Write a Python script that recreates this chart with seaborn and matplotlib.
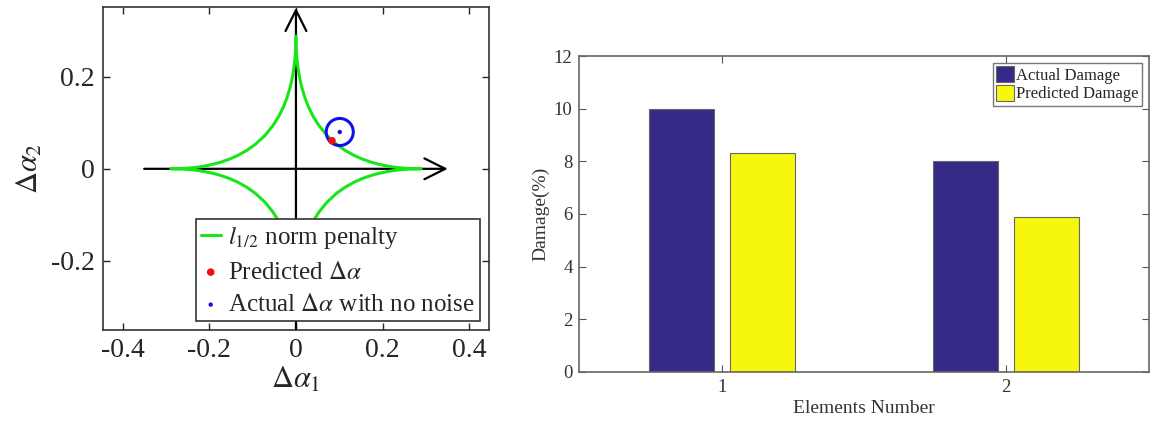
import numpy as np
import pandas as pd
import matplotlib
matplotlib.use("Agg")
import matplotlib.pyplot as plt
import seaborn as sns

# l_{1/2} norm ball, first-quadrant branch (mirrored in the other quadrants)
curve_x = [0.0, 0.0001, 0.0004, 0.0012, 0.0025, 0.0042, 0.0064, 0.01, 0.0144, 0.021,
           0.0289, 0.04, 0.0529, 0.072, 0.0941, 0.1134, 0.1345, 0.1534, 0.1736, 0.1907,
           0.2086, 0.2225, 0.2369, 0.2517, 0.267, 0.2774, 0.288]
curve_y = [0.288, 0.2774, 0.267, 0.2517, 0.2369, 0.2225, 0.2086, 0.1907, 0.1736, 0.1534,
           0.1345, 0.1134, 0.0941, 0.072, 0.0529, 0.04, 0.0289, 0.021, 0.0144, 0.01,
           0.0064, 0.0042, 0.0025, 0.0012, 0.0004, 0.0001, 0.0]
predicted_pt = (0.083, 0.061)
actual_pt = (0.101, 0.080)

# bar chart values
elements = ["1", "2"]
actual_damage = [10.0, 8.0]
predicted_damage = [8.3, 5.9]

sns.set_style("ticks")
plt.rcParams["font.family"] = ["Liberation Serif", "DejaVu Serif"]
plt.rcParams["mathtext.fontset"] = "stix"
plt.rcParams["xtick.direction"] = "in"
plt.rcParams["ytick.direction"] = "in"

fig = plt.figure(figsize=(11.52, 4.23), dpi=100)
ax1 = fig.add_axes([0.0894, 0.220, 0.335, 0.764])
ax2 = fig.add_axes([0.503, 0.1206, 0.494, 0.747])

# ---- left panel ----
arrow_kw = dict(arrowstyle="->,head_length=0.5,head_width=0.25", lw=1.6, color="black",
                mutation_scale=30, shrinkA=0, shrinkB=0)
ax1.annotate("", xy=(0.35, 0), xytext=(-0.35, 0), arrowprops=arrow_kw, zorder=1)
ax1.annotate("", xy=(0, 0.35), xytext=(0, -0.35), arrowprops=arrow_kw, zorder=1)

cx = np.array(curve_x)
cy = np.array(curve_y)
green = "#19e619"
first = True
for sx in (1, -1):
    for sy in (1, -1):
        sns.lineplot(x=cx * sx, y=cy * sy, sort=False, estimator=None, color=green,
                     lw=2.2, ax=ax1, zorder=3,
                     label=r"$l_{1/2}$ norm penalty" if first else None)
        first = False

sns.scatterplot(x=[actual_pt[0]], y=[actual_pt[1]], s=380, marker="o", facecolor="none",
                edgecolor="#1010e8", linewidth=2.2, ax=ax1, zorder=4)
sns.scatterplot(x=[predicted_pt[0]], y=[predicted_pt[1]], s=30, color="#f01010",
                edgecolor="none", ax=ax1, zorder=5, label=r"Predicted $\Delta\alpha$")
sns.scatterplot(x=[actual_pt[0]], y=[actual_pt[1]], s=10, color="#1010e8",
                edgecolor="none", ax=ax1, zorder=5, label=r"Actual $\Delta\alpha$ with no noise")

ax1.set_xlim(-0.445, 0.445)
ax1.set_ylim(-0.35, 0.352)
ax1.set_xticks([-0.4, -0.2, 0, 0.2, 0.4])
ax1.set_xticklabels(["-0.4", "-0.2", "0", "0.2", "0.4"])
ax1.set_yticks([-0.2, 0, 0.2])
ax1.set_yticklabels(["-0.2", "0", "0.2"])
ax1.tick_params(labelsize=20, top=True, right=True, length=5, width=1, pad=6)
ax1.set_xlabel(r"$\Delta\alpha_1$", fontsize=22, labelpad=2)
ax1.set_ylabel(r"$\Delta\alpha_2$", fontsize=22, labelpad=4)
for sp in ax1.spines.values():
    sp.set_linewidth(1.2)
    sp.set_color("#333333")
leg1 = ax1.legend(loc="lower right", fontsize=18, frameon=True, fancybox=False,
                  edgecolor="#333333", framealpha=1, handlelength=0.8, handletextpad=0.3,
                  borderpad=0.2, labelspacing=0.4, borderaxespad=0.35, markerscale=1.0)
leg1.get_frame().set_linewidth(1.2)

# ---- right panel ----
df = pd.DataFrame({
    "element": elements * 2,
    "kind": ["Actual Damage"] * 2 + ["Predicted Damage"] * 2,
    "value": actual_damage + predicted_damage,
})
sns.barplot(data=df, x="element", y="value", hue="kind", saturation=1,
            palette={"Actual Damage": "#352a87", "Predicted Damage": "#f7f70e"},
            width=0.57, gap=0.2, edgecolor="#666666", linewidth=0.8, ax=ax2)
ax2.set_xlim(-0.5, 1.5)
ax2.set_ylim(0, 12)
ax2.set_yticks(range(0, 13, 2))
ax2.tick_params(labelsize=13.5, top=True, right=True, length=5, width=0.8, pad=5,
                color="#555555", labelcolor="#333333")
ax2.set_xlabel("Elements Number", fontsize=14, color="#333333", labelpad=3)
ax2.set_ylabel("Damage(%)", fontsize=14, color="#333333", labelpad=3)
for sp in ax2.spines.values():
    sp.set_linewidth(1.2)
    sp.set_color("#666666")
leg2 = ax2.legend(loc="upper right", fontsize=12, frameon=True, fancybox=False,
                  edgecolor="#777777", framealpha=1, handlelength=1.1, handleheight=1.1,
                  handletextpad=0.1, borderpad=0.2, labelspacing=0.05, borderaxespad=0.4)
leg2.get_frame().set_linewidth(1.0)

fig.savefig("out.png", dpi=100)
